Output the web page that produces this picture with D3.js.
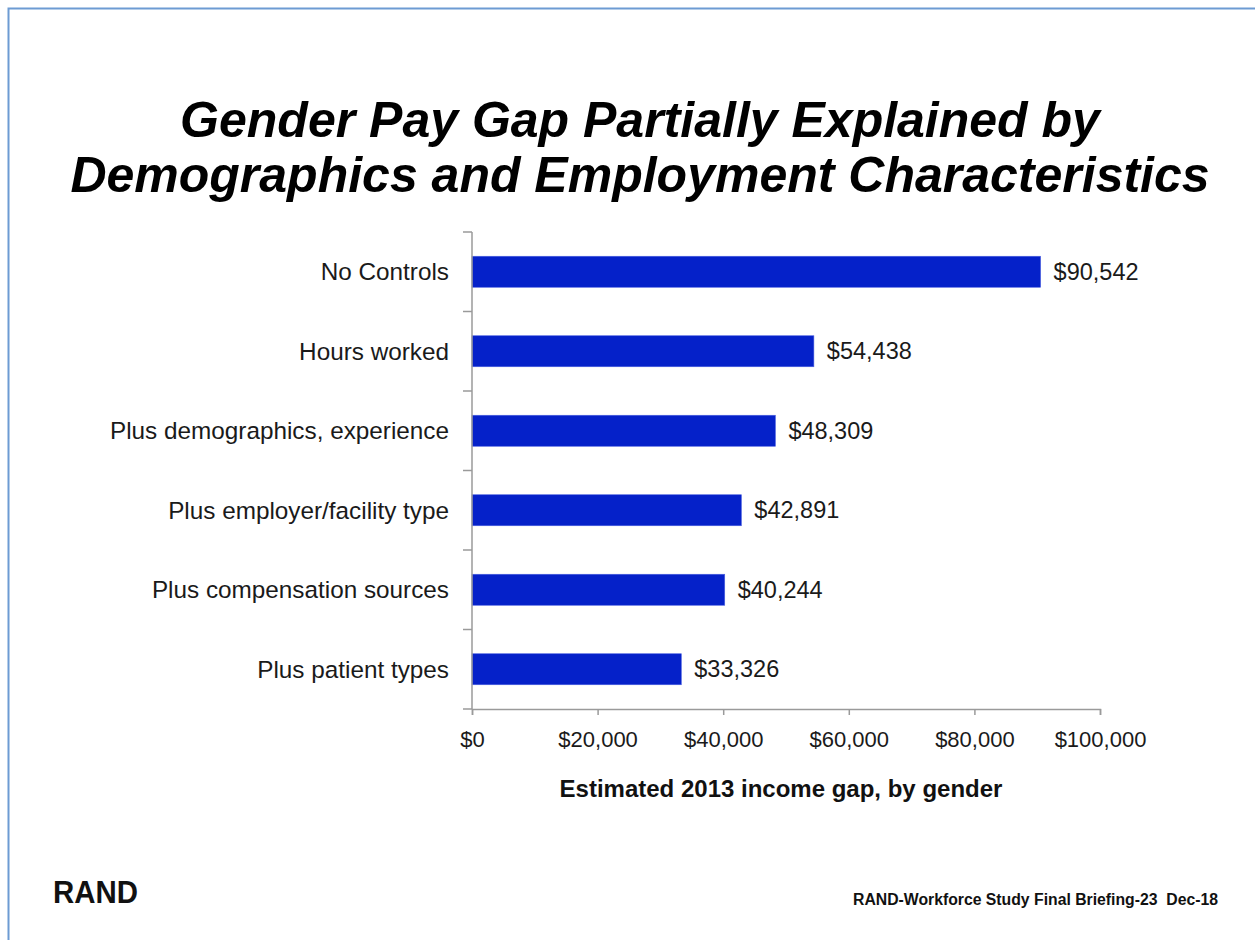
<!DOCTYPE html>
<html>
<head>
<meta charset="utf-8">
<script src="https://cdn.jsdelivr.net/npm/d3@7"></script>
<style>
  html, body { margin: 0; padding: 0; background: #fff; }
  svg { display: block; }
  text { font-family: "Liberation Sans", Arial, sans-serif; }
</style>
</head>
<body>
<svg id="chart" width="1255" height="940"></svg>
<script>
const titleLines = ["Gender Pay Gap Partially Explained by", "Demographics and Employment Characteristics"];
const categories = ["No Controls", "Hours worked", "Plus demographics, experience", "Plus employer/facility type", "Plus compensation sources", "Plus patient types"];
const values = [90542, 54438, 48309, 42891, 40244, 33326];
const xTicks = [0, 20000, 40000, 60000, 80000, 100000];
const xAxisTitle = "Estimated 2013 income gap, by gender";
const logoText = "RAND";
const footerText = "RAND-Workforce Study Final Briefing-23  Dec-18";

(function () {
const svg = d3.select("#chart");

// slide border
svg.append("rect")
  .attr("x", 8.5).attr("y", 8.5)
  .attr("width", 1300).attr("height", 1000)
  .attr("fill", "none").attr("stroke", "#6d9bd3").attr("stroke-width", 2);

// title
svg.append("g").selectAll("text").data(titleLines).join("text")
  .attr("x", 640)
  .attr("y", (d, i) => 137 + i * 55)
  .attr("text-anchor", "middle")
  .attr("font-size", 50)
  .attr("font-weight", "bold")
  .attr("font-style", "italic")
  .attr("fill", "#000")
  .text(d => d);

const pLeft = 472, pRight = 1100, pTop = 232, pBottom = 709;

const x = d3.scaleLinear().domain([0, 100000]).range([pLeft, pRight]);
const y = d3.scaleBand().domain(categories).range([pTop, pBottom]).paddingInner(0.61).paddingOuter(0.305);

const fmt = v => "$" + d3.format(",")(v);

// bars
svg.append("g").selectAll("rect").data(values).join("rect")
  .attr("x", x(0))
  .attr("y", (d, i) => y(categories[i]))
  .attr("width", d => x(d) - x(0))
  .attr("height", y.bandwidth())
  .attr("fill", "#0521c9")
  .attr("stroke", "#4a5fe0")
  .attr("stroke-width", 0.6);

// value labels
svg.append("g").selectAll("text").data(values).join("text")
  .attr("x", d => x(d) + 13)
  .attr("y", (d, i) => y(categories[i]) + y.bandwidth() / 2)
  .attr("dy", "0.35em")
  .attr("font-size", 23.5)
  .attr("fill", "#1a1a1a")
  .text(d => fmt(d));

// y axis (category boundaries as ticks)
const yAxisG = svg.append("g");
const bounds = d3.range(categories.length + 1).map(i => pTop + i * (pBottom - pTop) / categories.length);
yAxisG.append("line").attr("x1", pLeft).attr("x2", pLeft).attr("y1", pTop).attr("y2", pBottom)
  .attr("stroke", "#9a9a9a").attr("stroke-width", 1.5);
yAxisG.selectAll("line.tk").data(bounds).join("line").attr("class", "tk")
  .attr("x1", pLeft - 9).attr("x2", pLeft).attr("y1", d => d).attr("y2", d => d)
  .attr("stroke", "#9a9a9a").attr("stroke-width", 1.5);
yAxisG.selectAll("text").data(categories).join("text")
  .attr("x", pLeft - 23)
  .attr("y", d => y(d) + y.bandwidth() / 2)
  .attr("dy", "0.35em")
  .attr("text-anchor", "end")
  .attr("font-size", 24.3)
  .attr("fill", "#1a1a1a")
  .text(d => d);

// x axis
const xAxis = d3.axisBottom(x).tickValues(xTicks).tickFormat(fmt).tickSize(6).tickPadding(16);
const xg = svg.append("g").attr("transform", `translate(0,${pBottom})`).call(xAxis);
xg.select(".domain").attr("stroke", "#9a9a9a").attr("stroke-width", 1.5);
xg.selectAll(".tick line").attr("stroke", "#9a9a9a").attr("stroke-width", 1.5);
xg.selectAll(".tick text")
  .attr("font-family", "'Liberation Sans', Arial, sans-serif")
  .attr("font-size", 22)
  .attr("fill", "#1a1a1a");

// x axis title
svg.append("text")
  .attr("x", 781).attr("y", 797)
  .attr("text-anchor", "middle")
  .attr("font-size", 24)
  .attr("font-weight", "bold")
  .attr("fill", "#111")
  .text(xAxisTitle);

// logo
svg.append("text")
  .attr("x", 53).attr("y", 903)
  .attr("font-size", 31)
  .attr("font-weight", "bold")
  .attr("fill", "#111")
  .attr("textLength", 85)
  .attr("lengthAdjust", "spacingAndGlyphs")
  .text(logoText);

// footer
svg.append("text")
  .attr("x", 853).attr("y", 905)
  .attr("font-size", 16)
  .attr("font-weight", "bold")
  .attr("fill", "#111")
  .style("white-space", "pre")
  .attr("textLength", 365)
  .attr("lengthAdjust", "spacingAndGlyphs")
  .text(footerText);
})();
</script>
</body>
</html>
